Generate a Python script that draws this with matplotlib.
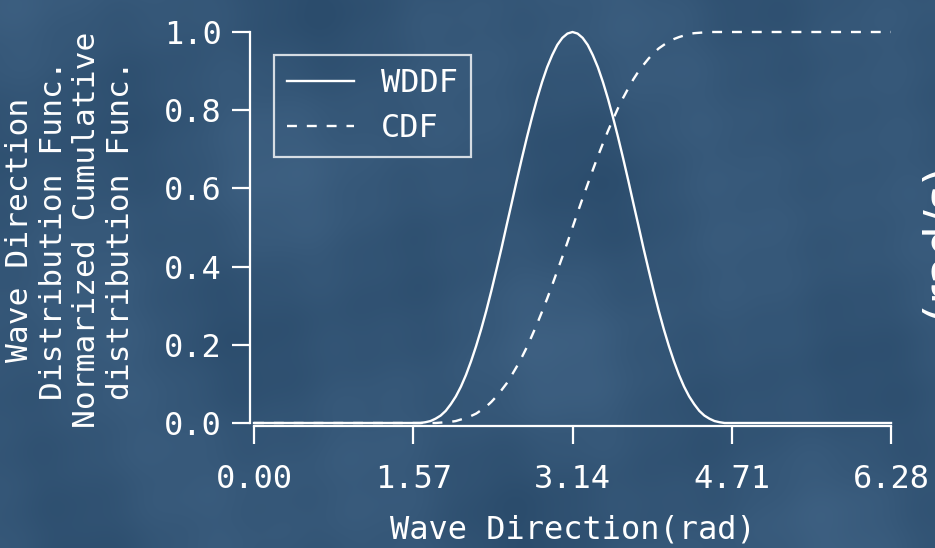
import numpy as np
import matplotlib
matplotlib.use("Agg")
import matplotlib.pyplot as plt

# ---------------- data ----------------
theta = [0.00,
         1.54, 1.59, 1.64, 1.69, 1.74, 1.79, 1.84, 1.89, 1.94, 1.99, 2.04, 2.09,
         2.14, 2.19, 2.24, 2.29, 2.34, 2.39, 2.44, 2.49, 2.54, 2.59, 2.64, 2.69,
         2.74, 2.79, 2.84, 2.89, 2.94, 2.99, 3.04, 3.09, 3.14, 3.19, 3.24, 3.29,
         3.34, 3.39, 3.44, 3.49, 3.54, 3.59, 3.64, 3.69, 3.74, 3.79, 3.84, 3.89,
         3.94, 3.99, 4.04, 4.09, 4.14, 4.19, 4.24, 4.29, 4.34, 4.39, 4.44, 4.49,
         4.54, 4.59, 4.64, 4.69, 4.74,
         6.28]
wddf = [0.000,
        0.000, 0.000, 0.000, 0.002, 0.005, 0.011, 0.019, 0.031, 0.048, 0.068,
        0.093, 0.123, 0.158, 0.197, 0.240, 0.287, 0.338, 0.392, 0.447, 0.505,
        0.562, 0.620, 0.676, 0.730, 0.781, 0.829, 0.872, 0.910, 0.941, 0.967,
        0.985, 0.996, 1.000, 0.996, 0.985, 0.967, 0.941, 0.910, 0.872, 0.829,
        0.781, 0.730, 0.676, 0.620, 0.562, 0.505, 0.447, 0.392, 0.338, 0.287,
        0.240, 0.197, 0.158, 0.123, 0.093, 0.068, 0.048, 0.031, 0.019, 0.011,
        0.005, 0.002, 0.000, 0.000, 0.000,
        0.000]
cdf = [0.000,
       0.000, 0.000, 0.000, 0.000, 0.000, 0.000, 0.001, 0.002, 0.003, 0.005,
       0.009, 0.013, 0.018, 0.024, 0.033, 0.042, 0.054, 0.068, 0.084, 0.101,
       0.122, 0.144, 0.168, 0.194, 0.223, 0.253, 0.285, 0.318, 0.353, 0.389,
       0.425, 0.462, 0.500, 0.538, 0.575, 0.611, 0.647, 0.682, 0.715, 0.747,
       0.777, 0.806, 0.832, 0.856, 0.879, 0.899, 0.916, 0.932, 0.946, 0.958,
       0.967, 0.976, 0.982, 0.987, 0.991, 0.995, 0.997, 0.998, 0.999, 1.000,
       1.000, 1.000, 1.000, 1.000, 1.000,
       1.000]
xticks = [0.00, 1.57, 3.14, 4.71, 6.28]
xtick_labels = ["0.00", "1.57", "3.14", "4.71", "6.28"]
yticks = [0.0, 0.2, 0.4, 0.6, 0.8, 1.0]
ytick_labels = ["0.0", "0.2", "0.4", "0.6", "0.8", "1.0"]
series_labels = ["WDDF", "CDF"]
xlabel = "Wave Direction(rad)"
ylabel = "Wave Direction\nDistribution Func.\nNormarized Cumulative\ndistribution Func."
right_label = "(rad/s)"

# ---------------- styling ----------------
W, H = 935, 548
FS = 23
MONO = ["DejaVu Sans Mono"]
plt.rcParams["font.family"] = MONO

fig = plt.figure(figsize=(W / 100, H / 100), dpi=100)

# background (deterministic soft cloudy blue)
bg = fig.add_axes([0, 0, 1, 1], zorder=-10)
yy, xx = np.mgrid[0:H, 0:W] / 100.0
pat = (np.sin(xx * 1.3 + 0.7) * np.cos(yy * 1.7 + 0.3)
       + 0.6 * np.sin(xx * 2.9 - yy * 1.1 + 1.9)
       + 0.4 * np.cos(xx * 0.7 + yy * 2.3 + 0.4)
       + 0.25 * np.sin(xx * 6.1 + yy * 4.7) * np.cos(xx * 3.3 - yy * 5.9))
pat = (pat - pat.min()) / (pat.max() - pat.min())
dark = np.array([0x2b, 0x4c, 0x6c]) / 255.0
light = np.array([0x42, 0x65, 0x87]) / 255.0
img = dark[None, None, :] + (light - dark)[None, None, :] * pat[..., None] * 0.8
bg.imshow(img, aspect="auto", extent=[0, 1, 0, 1], interpolation="bilinear")
bg.set_axis_off()

L, R, T, B = 254, 891, 32, 423
ax = fig.add_axes([L / W, 1 - B / H, (R - L) / W, (B - T) / H])
ax.set_facecolor("none")
ax.set_xlim(0, 6.28)
ax.set_ylim(0, 1)

lw = 1.7
ax.plot(theta, wddf, color="white", lw=lw, label=series_labels[0], clip_on=False)
ax.plot(theta, cdf, color="white", lw=lw, linestyle=(0, (4.2, 4.2)),
        label=series_labels[1], clip_on=False)

for s in ["top", "right"]:
    ax.spines[s].set_visible(False)
ax.spines["left"].set_position(("outward", 3))
ax.spines["bottom"].set_position(("outward", 2.2))
for s in ["left", "bottom"]:
    ax.spines[s].set_color("white")
    ax.spines[s].set_linewidth(1.6)

ax.set_xticks(xticks)
ax.set_xticklabels(xtick_labels)
ax.set_yticks(yticks)
ax.set_yticklabels(ytick_labels)
ax.tick_params(axis="both", colors="white", labelsize=FS, width=1.6, length=13)
ax.tick_params(axis="x", direction="out", pad=14)
ax.tick_params(axis="y", direction="out", pad=7)

ax.set_xlabel(xlabel, color="white", fontsize=FS, va="center")
ax.xaxis.set_label_coords(0.5, -(530 - B) / (B - T))

fig.text(70 / W, 1 - 230 / H, ylabel, rotation=90, ha="center", va="center",
         multialignment="center", color="white", fontsize=FS - 0.5,
         linespacing=1.2)

fig.text(918 / W, 1 - 240 / H, right_label, rotation=90, ha="left", va="center",
         color="white", fontsize=34, family=["DejaVu Sans"])

leg = ax.legend(loc="upper left", bbox_to_anchor=(274 / W, 1 - 55 / H),
                bbox_transform=fig.transFigure, borderaxespad=0,
                fontsize=FS, frameon=True, fancybox=False,
                handlelength=2.1, handletextpad=0.85, labelspacing=0.44,
                borderpad=0.4)
leg.get_frame().set_facecolor("none")
leg.get_frame().set_edgecolor("white")
leg.get_frame().set_linewidth(1.6)
for t in leg.get_texts():
    t.set_color("white")

fig.savefig("out.png", dpi=100)
